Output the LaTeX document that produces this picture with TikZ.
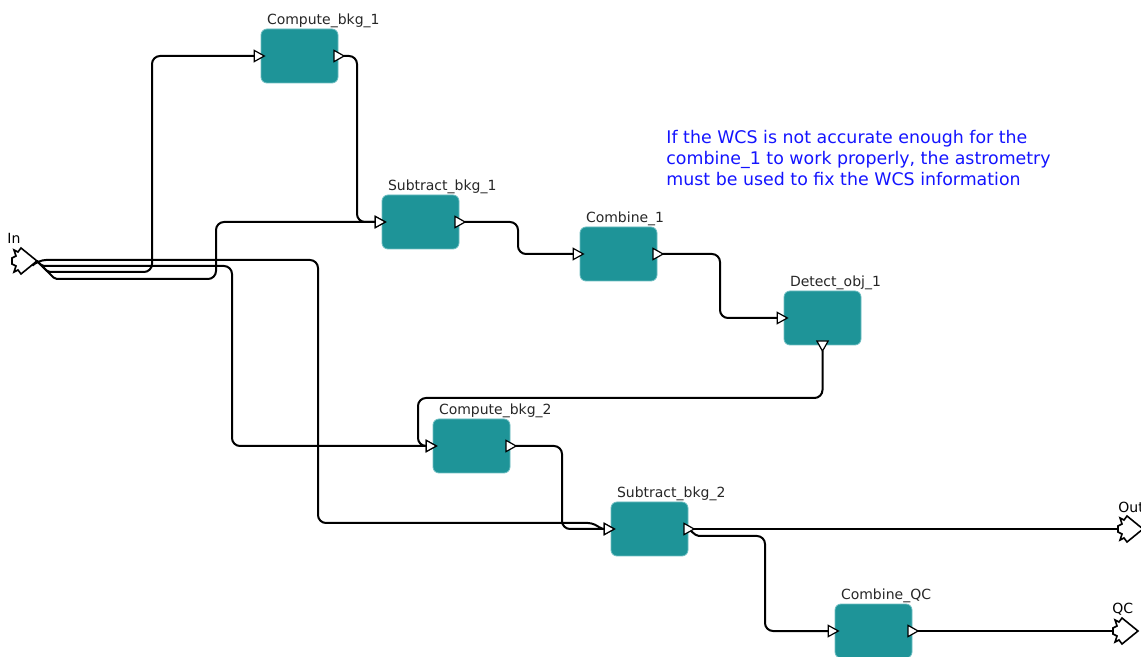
\documentclass[tikz,border=0pt]{standalone}
\usepackage{fontspec}
\setsansfont{DejaVu Sans}
\usetikzlibrary{arrows.meta, positioning}
\definecolor{actor}{RGB}{30,148,152}
\definecolor{actorrim}{RGB}{110,190,194}
\definecolor{note}{RGB}{20,20,255}

\begin{document}
\begin{tikzpicture}[x=0.5pt, y=-0.5pt,
  font=\sffamily,
  tin/.tip = {Triangle[open, fill=white, length=6pt, width=6.5pt, line width=0.6pt]},
  tout/.tip = {Triangle[open, fill=white, length=6pt, width=6.5pt, line width=0.6pt, reversed]},
       box/.style = {rectangle, rounded corners=3pt, fill=actor, draw=actorrim, line width=0.4pt,
                     minimum width=38.5pt, minimum height=27pt, inner sep=0pt},
    tagged/.style = {label={[anchor=base west, inner sep=0pt, xshift=3pt, yshift=2pt,
                     font=\sffamily\fontsize{7}{8}\selectfont, text=black!85]north west:#1}},
      wire/.style = {line width=1pt, rounded corners=4pt},
       win/.style = {wire, -tin, shorten >=-2.5pt},
      wout/.style = {wire, tout-, shorten <=-2.5pt},
      wboth/.style = {wire, tout-tin, shorten >=-2.5pt, shorten <=-2.5pt},
  ioport/.pic = {\draw[fill=white, line width=0.8pt, line join=miter]
                 (9,-13) -- (25,0) -- (9,13) -- (6,9) -- (2,11) -- (4,5) -- (0,3)
                 -- (0,-3) -- (4,-5) -- (2,-11) -- (6,-9) -- cycle;},
  portname/.style = {font=\sffamily\fontsize{7}{8}\selectfont, inner sep=0pt, anchor=base west}
                    ]
\useasboundingbox (0,0) rectangle (1141,657);
\clip (0,0) rectangle (1141,657);
% actors
\node (cbkg1)   [box, tagged=Compute\_bkg\_1]  at (299.5,56)  {};
\node (sbkg1)   [box, tagged=Subtract\_bkg\_1] at (420.5,222) {};
\node (comb1)   [box, tagged=Combine\_1]       at (618.5,254) {};
\node (detobj1) [box, tagged=Detect\_obj\_1]   at (822.5,318) {};
\node (cbkg2)   [box, tagged=Compute\_bkg\_2]  at (471.5,446) {};
\node (sbkg2)   [box, tagged=Subtract\_bkg\_2] at (649.5,529) {};
\node (combqc)  [box, tagged=Combine\_QC]      at (873.5,631) {};
% ports
\pic at (12,261) {ioport};
\pic at (1118,529) {ioport};
\pic at (1113,631) {ioport};
\coordinate (in)  at (37,261);
\coordinate (out) at (1118,529);
\coordinate (qc)  at (1113,631);
\node (inname)  [portname] at (7,244)    {In};
\node (outname) [portname] at (1118,513) {Out};
\node (qcname)  [portname] at (1112,613) {QC};
% note
\node (wcsnote) [anchor=north west, align=left, inner sep=0pt, text=note,
                 font=\sffamily\fontsize{8.7}{10.5}\selectfont] at (666,130)
  {If the WCS is not accurate enough for the\\
   combine\_1 to work properly, the astrometry\\
   must be used to fix the WCS information};
% links from In
\draw[win] (in) -- (38,260) -- (318,260) -- (318,523) -- (596,523)
  [rounded corners=1pt] -- (601,529) -- (sbkg2.west);
\draw[win] (in) [rounded corners=1pt] -- (42,266) [rounded corners=4pt] -- (232,266) |- (cbkg2.west);
\draw[win] (in) [rounded corners=1pt] -- (48,272) [rounded corners=4pt] -- (152,272) |- (cbkg1.west);
\draw[win] (in) [rounded corners=1pt] -- (55,279) [rounded corners=4pt] -- (216,279) |- (sbkg1.west);
% chain
\draw[wboth] (cbkg1.east) -| (357,222) -- (sbkg1.west);
\draw[wboth] (sbkg1.east) -| (518,254) -- (comb1.west);
\draw[wboth] (comb1.east) -| (720,318) -- (detobj1.west);
\draw[wboth] (detobj1.south) |- (418,398) |- (cbkg2.west);
\draw[wboth] (cbkg2.east) -| (562,529) -- (sbkg2.west);
\draw[win] (sbkg2.east) [rounded corners=1pt] -- (697,536) [rounded corners=4pt] -- (765,536) |- (combqc.west);
\draw[wout] (sbkg2.east) -- (out);
\draw[wout] (combqc.east) -- (qc);
\end{tikzpicture}
\end{document}
